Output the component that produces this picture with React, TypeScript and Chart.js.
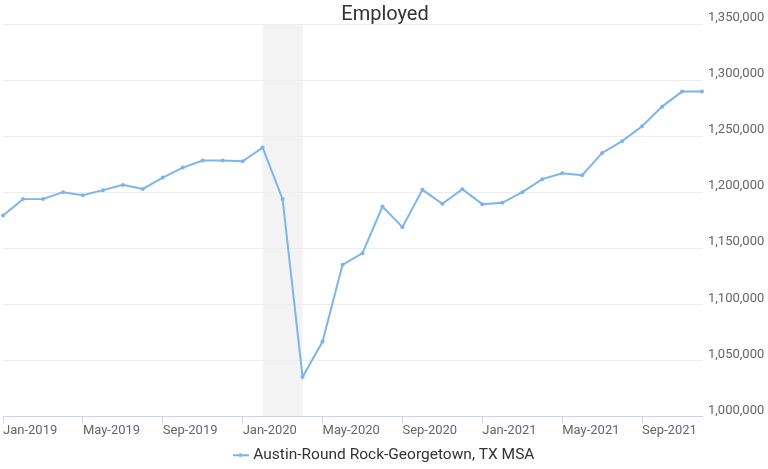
import React, { useEffect, useRef } from 'react';
import { Chart, registerables } from 'chart.js';

Chart.register(...registerables);

const categories = [
  'Jan-2019', 'Feb-2019', 'Mar-2019', 'Apr-2019', 'May-2019', 'Jun-2019',
  'Jul-2019', 'Aug-2019', 'Sep-2019', 'Oct-2019', 'Nov-2019', 'Dec-2019',
  'Jan-2020', 'Feb-2020', 'Mar-2020', 'Apr-2020', 'May-2020', 'Jun-2020',
  'Jul-2020', 'Aug-2020', 'Sep-2020', 'Oct-2020', 'Nov-2020', 'Dec-2020',
  'Jan-2021', 'Feb-2021', 'Mar-2021', 'Apr-2021', 'May-2021', 'Jun-2021',
  'Jul-2021', 'Aug-2021', 'Sep-2021', 'Oct-2021', 'Nov-2021', 'Dec-2021',
];

const employed = [
  1179200, 1193800, 1194000, 1200000, 1197300, 1201800,
  1206500, 1202900, 1213000, 1221900, 1228200, 1228200,
  1227600, 1239800, 1193800, 1035100, 1066800, 1135200,
  1145600, 1187200, 1168800, 1202100, 1189600, 1202700,
  1189300, 1190500, 1200000, 1211600, 1216900, 1215200,
  1235000, 1245500, 1258800, 1276300, 1289700, 1289700,
];

const seriesName = 'Austin-Round Rock-Georgetown, TX MSA';
const chartTitle = 'Employed';
const recessionStart = 'Feb-2020';
const recessionEnd = 'Apr-2020';
const yMin = 1000000;
const yMax = 1350000;
const yStep = 50000;
const labelEvery = 4;

const LINE = '#7cb5ec';
const FONT = 'Roboto';

const bandPlugin = {
  id: 'recessionBand',
  beforeDraw(chart: any) {
    const { ctx, chartArea, scales } = chart;
    const x = scales.x;
    const x0 = x.getPixelForValue(categories.indexOf(recessionStart));
    const x1 = x.getPixelForValue(categories.indexOf(recessionEnd));
    ctx.save();
    ctx.fillStyle = '#f3f3f3';
    ctx.fillRect(x0, chartArea.top, x1 - x0, chartArea.bottom - chartArea.top);
    ctx.restore();
  },
};

function makeLegendSymbol(): HTMLCanvasElement {
  const c = document.createElement('canvas');
  c.width = 16;
  c.height = 6;
  const g = c.getContext('2d')!;
  g.strokeStyle = LINE;
  g.lineWidth = 2;
  g.beginPath();
  g.moveTo(0, 3);
  g.lineTo(16, 3);
  g.stroke();
  g.fillStyle = LINE;
  g.beginPath();
  g.arc(8, 3, 2, 0, Math.PI * 2);
  g.fill();
  return c;
}

export default function App() {
  const ref = useRef<HTMLCanvasElement>(null);

  useEffect(() => {
    document.body.style.margin = '0';
    const canvas = ref.current!;
    const chart = new Chart(canvas, {
      type: 'line',
      data: {
        labels: categories,
        datasets: [
          {
            label: seriesName,
            data: employed,
            borderColor: LINE,
            backgroundColor: LINE,
            borderWidth: 2,
            pointRadius: 2,
            pointBorderWidth: 0,
            pointHoverRadius: 3,
            tension: 0,
            fill: false,
          },
        ],
      },
      options: {
        responsive: false,
        animation: false,
        layout: { padding: { left: 2, right: 0, top: 0, bottom: -4 } },
        plugins: {
          title: {
            display: true,
            text: chartTitle,
            color: '#333333',
            font: { family: FONT, size: 20, weight: 'normal', lineHeight: 0.95 },
            padding: { top: 5, bottom: 0 },
          },
          legend: {
            display: true,
            position: 'bottom',
            labels: {
              usePointStyle: true,
              pointStyle: makeLegendSymbol() as any,
              boxWidth: 10,
              padding: 4,
              color: '#333333',
              font: { family: FONT, size: 15.5 },
            },
          },
          tooltip: { enabled: false },
        },
        scales: {
          x: {
            type: 'category',
            offset: false,
            grid: {
              drawOnChartArea: false,
              drawTicks: true,
              tickLength: 7,
              color: (c: any) => (c.index % labelEvery === 0 ? '#ccd6eb' : 'rgba(0,0,0,0)'),
              tickColor: (c: any) => (c.index % labelEvery === 0 ? '#ccd6eb' : 'rgba(0,0,0,0)'),
            },
            border: { display: true, color: '#ccd6eb', width: 1 },
            ticks: {
              autoSkip: false,
              maxRotation: 0,
              minRotation: 0,
              align: 'start',
              padding: 0,
              color: '#666666',
              font: { family: FONT, size: 13 },
              callback: (_v: any, i: number) => (i % labelEvery === 0 ? categories[i] : ''),
            },
            afterFit: (s: any) => {
              s.height += 4.5;
            },
          },
          y: {
            position: 'right',
            min: yMin,
            max: yMax,
            grid: {
              color: '#ededed',
              drawTicks: false,
              lineWidth: 1,
            },
            border: { display: false },
            ticks: {
              stepSize: yStep,
              padding: 6,
              labelOffset: -6,
              color: '#666666',
              font: { family: FONT, size: 13 },
              callback: (v: any) => Number(v).toLocaleString('en-US'),
            },
            afterFit: (s: any) => {
              s.width = 66;
            },
          },
        },
      },
      plugins: [bandPlugin],
    });
    return () => chart.destroy();
  }, []);

  return (
    <div style={{ width: 768, height: 469 }}>
      <canvas ref={ref} width={768} height={469} />
    </div>
  );
}
